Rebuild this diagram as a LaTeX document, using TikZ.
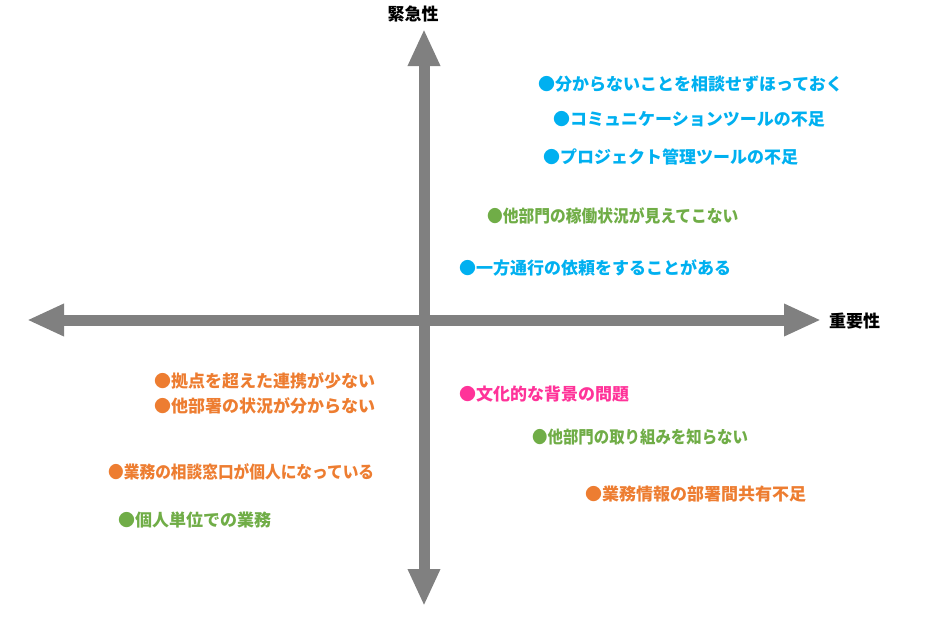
\documentclass[tikz,border=0pt]{standalone}
\usepackage{fontspec}
\newfontfamily\jpfont{Noto Sans CJK JP}
\usetikzlibrary{arrows.meta,positioning}

\definecolor{axisgray}{HTML}{808080}
\definecolor{itemblue}{HTML}{00B0F0}
\definecolor{itemgreen}{HTML}{70AD47}
\definecolor{itemorange}{HTML}{ED7D31}
\definecolor{itempink}{HTML}{FF3399}

\begin{document}
\begin{tikzpicture}[
  x=1pt, y=-1pt,
  every node/.style={inner sep=0pt, font=\jpfont\bfseries\fontsize{17}{20}\selectfont},
  axis/.style={draw=axisgray, line width=11pt,
    {Triangle[width=30pt,length=37pt]}-{Triangle[width=30pt,length=37pt]}},
  item/.style={anchor=west}
]
\useasboundingbox (0,0) rectangle (936,618);

% axes
\coordinate (west) at (27,320);
\coordinate (east) at (821,320);
\coordinate (north) at (424,29);
\coordinate (south) at (424,606);
\draw[axis] (west) -- (east);
\draw[axis] (north) -- (south);

\node (urgency) at (413,14) {緊急性};
\node[anchor=west] (importance) at (829,321) {重要性};

% upper right
\node[item, text=itemblue] (sodan) at (538,84) {●分からないことを相談せずほっておく};
\node[item, text=itemblue] (commtool) at (553,119) {●コミュニケーションツールの不足};
\node[item, text=itemblue] (pjtool) at (543,157) {●プロジェクト管理ツールの不足};
\node[item, text=itemgreen] (kadou) at (487,216) {\scalebox{0.926}[1]{●他部門の稼働状況が見えてこない}};
\node[item, text=itemblue] (ippou) at (459,268) {●一方通行の依頼をすることがある};

% lower left
\node[item, text=itemorange] (kyoten) at (154,381) {●拠点を超えた連携が少ない};
\node[item, text=itemorange] (tabusho) at (154,406) {●他部署の状況が分からない};
\node[item, text=itemorange] (madoguchi) at (108,472) {\scalebox{0.923}[1]{●業務の相談窓口が個人になっている}};
\node[item, text=itemgreen] (kojin) at (118,520) {●個人単位での業務};

% lower right
\node[item, text=itempink] (bunka) at (459,394) {●文化的な背景の問題};
\node[item, text=itemgreen] (torikumi) at (532,437) {\scalebox{0.907}[1]{●他部門の取り組みを知らない}};
\node[item, text=itemorange] (kyouyu) at (585,494) {●業務情報の部署間共有不足};
\end{tikzpicture}
\end{document}
